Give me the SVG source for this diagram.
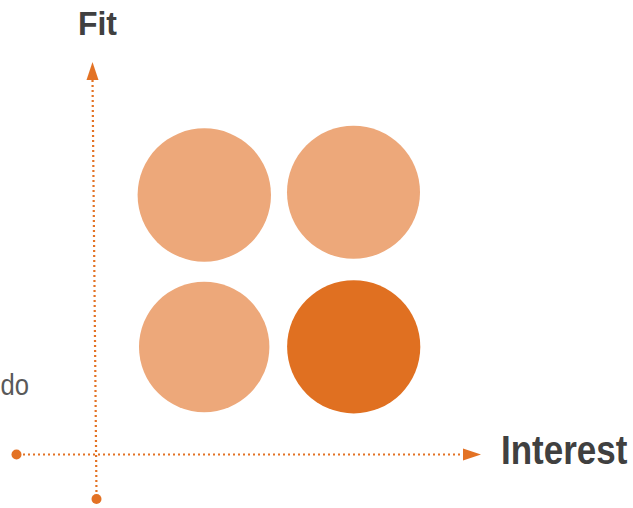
<svg xmlns="http://www.w3.org/2000/svg" width="633" height="508" viewBox="0 0 633 508">
<style>
.lbl{font-family:"Liberation Sans",Arial,sans-serif;fill:#404040}
.axis{stroke:#E37224;stroke-width:2.2;stroke-dasharray:2 3;fill:none}
.light{fill:#EDA87A}
.dark{fill:#E07021}
.end{fill:#E37224}
</style>
<g id="connectors">
<line class="axis" x1="96.5" y1="497" x2="92.5" y2="78"/>
<path d="M86.5,80 L92.5,62 L98.5,80 z" class="end"/>
<circle class="end" cx="96.5" cy="499" r="5"/>
<line class="axis" x1="18" y1="454.5" x2="465" y2="454.5"/>
<path d="M463,448.5 L481,454.5 L463,460.5 z" class="end"/>
<circle class="end" cx="16.5" cy="454.5" r="5"/>
</g>
<g id="n1"><circle class="light" cx="204.3" cy="195" r="66.7"/></g>
<g id="n2"><circle class="light" cx="353.5" cy="192.3" r="66.5"/></g>
<g id="n3"><circle class="light" cx="204.2" cy="347" r="65.2"/></g>
<g id="n4"><circle class="dark" cx="353.7" cy="346.8" r="66.6"/></g>
<g id="fit"><text class="lbl" x="78" y="35" font-size="34" font-weight="bold" textLength="39" lengthAdjust="spacingAndGlyphs">Fit</text></g>
<g id="interest"><text class="lbl" transform="translate(501,463.5) scale(1,1.15)" x="0" y="0" font-size="35" font-weight="bold">Interest</text></g>
<g id="do"><text x="0.5" y="395" font-size="30" textLength="28.5" lengthAdjust="spacingAndGlyphs" font-family="Liberation Sans,Arial,sans-serif" fill="#595959">do</text></g>
</svg>
